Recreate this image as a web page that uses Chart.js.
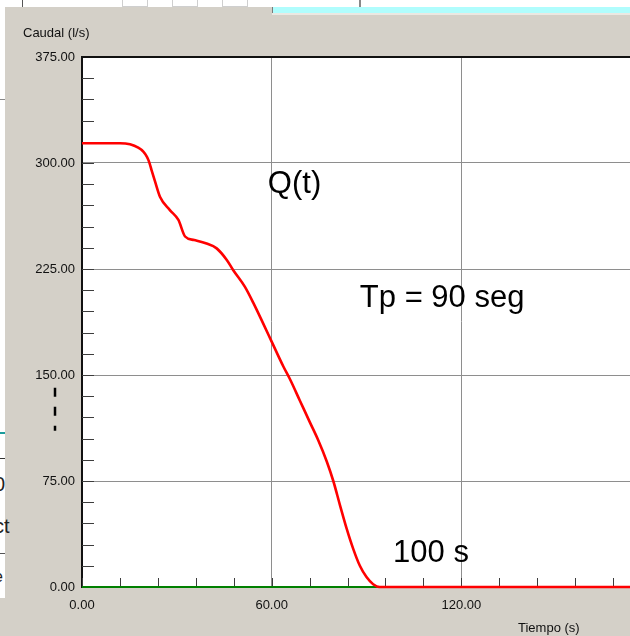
<!DOCTYPE html>
<html lang="es">
<head>
<meta charset="utf-8">
<title>Caudal Q(t)</title>
<script src="https://cdn.jsdelivr.net/npm/chart.js@4/dist/chart.umd.min.js"></script>
<style>
    html, body { margin: 0; padding: 0; width: 630px; height: 636px; overflow: hidden; background: #fff; position: relative; }
    .bloque { position: absolute; }
    #panel { left: 5px; top: 7px; right: 0; bottom: 0; background: #d4d0c8; }
    #pie { left: 0; top: 598px; width: 5px; bottom: 0; background: #d4d0c8; }
    #cian { left: 272px; top: 7px; width: 358px; height: 6px; background: #b0fdfd; border-left: 1px solid #7a7a7a; }
    #cianBorde { left: 272px; top: 13px; width: 358px; height: 2px; background: #ebe8e2; }
    .caja { top: -10px; width: 24px; height: 15px; border: 1px solid #cfcfcf; background: #fff; }
    .raya { background: #555; }
    .frag { left: -6px; font: 20px 'Liberation Sans', Arial, sans-serif; color: #222; line-height: 1; }
    #grafico { position: absolute; left: 0; top: 0; }
</style>
</head>
<body>
<!-- ventanas de fondo -->
<div class="bloque" id="panel"></div>
<div class="bloque" id="pie"></div>
<div class="bloque" id="cian"></div>
<div class="bloque" id="cianBorde"></div>
<div class="bloque raya" style="left:22px;top:0;width:1px;height:7px"></div>
<div class="bloque raya" style="left:359px;top:0;width:2px;height:7px;background:#888"></div>
<div class="bloque caja" style="left:122px"></div>
<div class="bloque caja" style="left:172px"></div>
<div class="bloque caja" style="left:222px"></div>
<div class="bloque raya" style="left:0;top:99px;width:5px;height:1px;background:#888"></div>
<div class="bloque raya" style="left:0;top:432px;width:5px;height:2px;background:#1c9c9c"></div>
<div class="bloque raya" style="left:0;top:458px;width:5px;height:1px;background:#333"></div>
<div class="bloque frag" style="top:474px">0</div>
<div class="bloque frag" style="top:516px">ct</div>
<div class="bloque raya" style="left:0;top:553px;width:5px;height:1px;background:#555"></div>
<div class="bloque frag" style="top:569px;font-size:16px">e</div>

<canvas id="grafico" width="700" height="636"></canvas>

<script>
// Hidrograma de caudal
const tiempo = [0, 12, 15.2, 17.8, 19.4, 20.5, 21.2, 22.0, 23.1, 24.7, 27.8, 30.5, 32.6, 35.5,
    39.4, 42.6, 45.8, 47.8, 51.5, 54.2, 57.3, 60, 63.7, 65.8, 68.9, 72.1, 74.7, 77.4, 79.5,
    81.6, 83.7, 85.8, 87.9, 90, 92.1, 94.2, 100, 180];
const caudal = [314, 314, 313.2, 310.8, 308, 304.5, 301, 295, 287, 276, 266.7, 259.7, 248, 245.5,
    243, 239.6, 231.4, 224.3, 212.5, 201, 186.5, 173.6, 156, 147, 132, 116.5, 104, 89, 75,
    58, 41.5, 27, 15, 7, 2, 0, 0, 0];

// Marcas con etiqueta en cada eje
const etiquetasX = [0, 60, 120, 180];
const etiquetasY = [0, 75, 150, 225, 300, 375];

// Textos sobre el gráfico (posición en unidades del gráfico)
const notas = [
    { texto: 'Q(t)', t: 58.8, q: 279 },
    { texto: 'Tp = 90 seg', t: 87.9, q: 198 },
    { texto: '100 s', t: 98.4, q: 18 }
];

const fuente = "'Liberation Sans', Arial, sans-serif";
Chart.defaults.font.family = fuente;

const puntosQ = tiempo.map((t, i) => ({ x: t, y: caudal[i] }));
const lineaCero = [{ x: etiquetasX[0], y: 0 }, { x: etiquetasX[etiquetasX.length - 1], y: 0 }];

const decorado = {
    id: 'decorado',
    beforeDraw(chart) {
        const { ctx, chartArea: a } = chart;
        ctx.save();
        ctx.fillStyle = '#ffffff';
        ctx.fillRect(a.left, a.top, a.right - a.left, a.bottom - a.top);
        ctx.restore();
    },
    beforeDatasetsDraw(chart) {
        const { ctx, chartArea: a, scales } = chart;
        ctx.save();
        ctx.strokeStyle = '#3c3c3c';
        ctx.lineWidth = 1;
        // marcas hacia dentro en el eje Y
        scales.y.ticks.forEach(tk => {
            const py = Math.round(scales.y.getPixelForValue(tk.value)) + 0.5;
            ctx.beginPath();
            ctx.moveTo(a.left, py);
            ctx.lineTo(a.left + 12, py);
            ctx.stroke();
        });
        // marcas hacia dentro en el eje X
        scales.x.ticks.forEach(tk => {
            const px = Math.round(scales.x.getPixelForValue(tk.value)) + 0.5;
            ctx.beginPath();
            ctx.moveTo(px, a.bottom);
            ctx.lineTo(px, a.bottom - 9);
            ctx.stroke();
        });
        // borde superior
        ctx.strokeStyle = '#111';
        ctx.lineWidth = 2;
        ctx.beginPath();
        ctx.moveTo(a.left, a.top);
        ctx.lineTo(a.right, a.top);
        ctx.stroke();
        ctx.restore();
    },
    afterDraw(chart) {
        const { ctx, chartArea: a, scales } = chart;
        ctx.save();
        ctx.fillStyle = '#000';
        ctx.textAlign = 'left';
        ctx.textBaseline = 'alphabetic';
        ctx.font = '31px ' + fuente;
        notas.forEach(n => {
            ctx.fillText(n.texto, scales.x.getPixelForValue(n.t), scales.y.getPixelForValue(n.q));
        });

        // títulos de los ejes
        ctx.font = '13px ' + fuente;
        ctx.fillStyle = '#111';
        ctx.fillText('Caudal (l/s)', 23, 37);
        ctx.fillText('Tiempo (s)', 518, 632);

        // trazo discontinuo junto al eje Y
        ctx.strokeStyle = '#000';
        ctx.lineWidth = 2.5;
        ctx.setLineDash([9, 10]);
        ctx.beginPath();
        ctx.moveTo(a.left - 27, scales.y.getPixelForValue(141));
        ctx.lineTo(a.left - 27, scales.y.getPixelForValue(110.5));
        ctx.stroke();
        ctx.restore();
    }
};

new Chart(document.getElementById('grafico'), {
    type: 'line',
    data: {
        datasets: [
            {
                label: 'Q(t)',
                data: puntosQ,
                borderColor: '#ff0000',
                borderWidth: 2.6,
                pointRadius: 0,
                cubicInterpolationMode: 'monotone',
                clip: false
            },
            {
                label: 'base',
                data: lineaCero,
                borderColor: '#008000',
                borderWidth: 2,
                pointRadius: 0,
                clip: false
            }
        ]
    },
    options: {
        responsive: false,
        animation: false,
        events: [],
        layout: { padding: { left: 0, top: 57, right: 49, bottom: 0 } },
        plugins: {
            legend: { display: false },
            tooltip: { enabled: false }
        },
        scales: {
            x: {
                type: 'linear',
                min: 0,
                max: 180,
                afterFit(scale) { scale.height = 49; },
                border: { display: true, color: '#111', width: 2 },
                grid: {
                    drawTicks: false,
                    color: c => (etiquetasX.includes(c.tick.value) ? '#8e8e8e' : 'transparent')
                },
                ticks: {
                    stepSize: 12,
                    padding: 11,
                    maxRotation: 0,
                    autoSkip: false,
                    color: '#111',
                    font: { size: 13 },
                    callback: v => (etiquetasX.includes(v) ? v.toFixed(2) : '')
                }
            },
            y: {
                min: 0,
                max: 375,
                afterFit(scale) { scale.width = 82; },
                border: { display: true, color: '#111', width: 2 },
                grid: {
                    drawTicks: false,
                    color: c => (etiquetasY.includes(c.tick.value) ? '#8e8e8e' : 'transparent')
                },
                ticks: {
                    stepSize: 15,
                    padding: 7,
                    autoSkip: false,
                    color: '#111',
                    font: { size: 13 },
                    callback: v => (etiquetasY.includes(v) ? v.toFixed(2) : '')
                }
            }
        }
    },
    plugins: [decorado]
});
</script>
</body>
</html>
